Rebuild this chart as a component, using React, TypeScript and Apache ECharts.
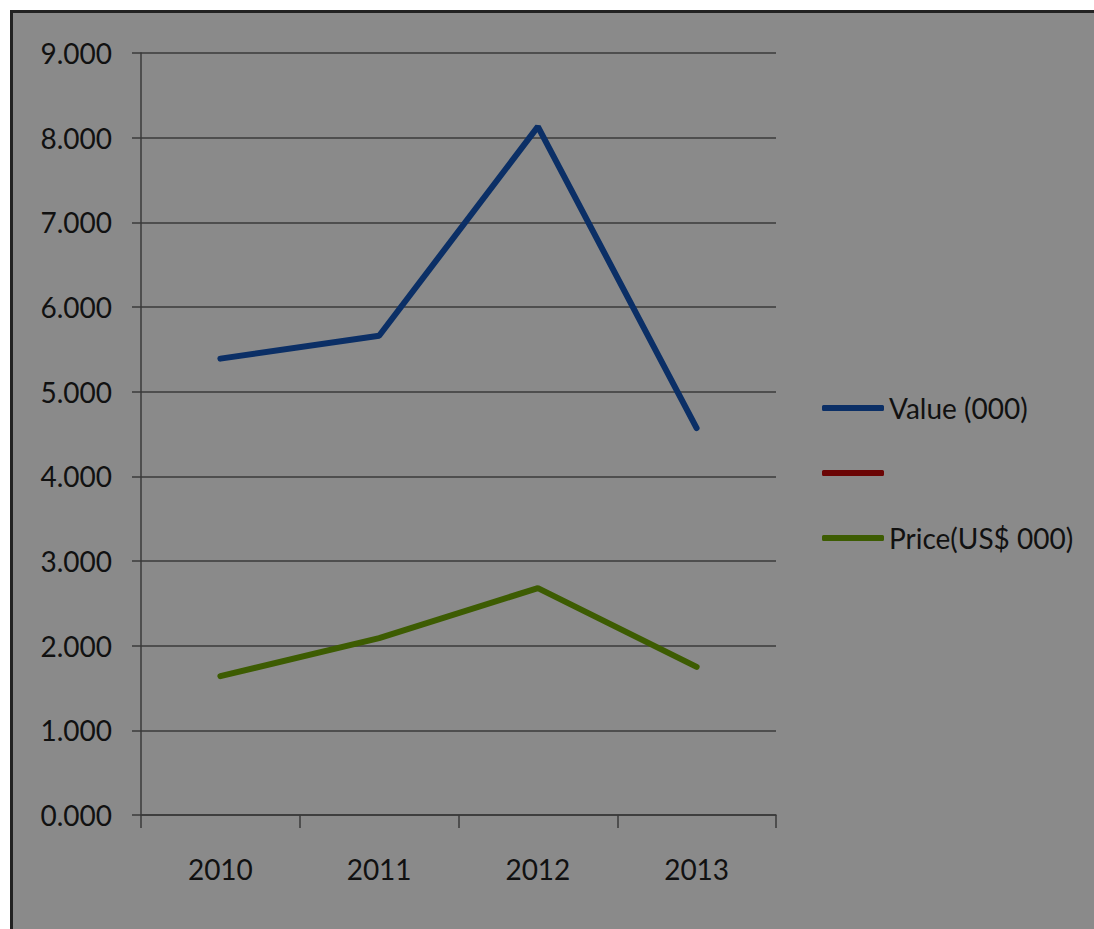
import React, { useEffect, useRef } from "react";
import * as echarts from "echarts";

const categories = ["2010", "2011", "2012", "2013"];
const valueSeries = [5.39, 5.66, 8.13, 4.57];
const blankSeries: (number | null)[] = [null, null, null, null];
const priceSeries = [1.64, 2.09, 2.68, 1.75];
const seriesNames = ["Value (000)", " ", "Price(US$ 000)"];

const FONT = "Lato, 'Liberation Sans', sans-serif";

export default function App() {
  const ref = useRef<HTMLDivElement>(null);
  useEffect(() => {
    if (!ref.current) return;
    const chart = echarts.init(ref.current, undefined, { renderer: "svg" });
    chart.setOption({
      animation: false,
      backgroundColor: "transparent",
      textStyle: { fontFamily: FONT },
      grid: { left: 141, right: 318, top: 53, bottom: 114, containLabel: false },
      legend: {
        orient: "vertical",
        left: 822,
        top: 393,
        padding: 0,
        itemWidth: 62,
        itemHeight: 6,
        itemGap: 35,
        icon: "roundRect",
        data: seriesNames,
        textStyle: { fontSize: 28, color: "#111", fontFamily: FONT, lineHeight: 30 },
      },
      xAxis: {
        type: "category",
        data: categories,
        boundaryGap: true,
        axisLine: { show: true, lineStyle: { color: "#3a3a3a", width: 1.5 } },
        axisTick: { show: true, length: 13, lineStyle: { color: "#3a3a3a", width: 1.5 } },
        axisLabel: { fontSize: 28, color: "#111", margin: 40, fontFamily: FONT },
        splitLine: { show: false },
      },
      yAxis: {
        type: "value",
        min: 0,
        max: 9,
        interval: 1,
        axisLine: { show: true, lineStyle: { color: "#3a3a3a", width: 1.5 } },
        axisTick: { show: true, length: 9, lineStyle: { color: "#3a3a3a", width: 1.5 } },
        axisLabel: {
          fontSize: 28,
          color: "#111",
          margin: 29,
          fontFamily: FONT,
          formatter: (v: number) => v.toFixed(3),
        },
        splitLine: { show: true, lineStyle: { color: "#3a3a3a", width: 1.5 } },
      },
      series: [
        {
          name: seriesNames[0],
          type: "line",
          data: valueSeries,
          symbol: "none",
          color: "#0b2f66",
          lineStyle: { width: 6, color: "#0b2f66", cap: "round" },
        },
        {
          name: seriesNames[1],
          type: "line",
          data: blankSeries,
          symbol: "none",
          color: "#6b0505",
          lineStyle: { width: 6, color: "#6b0505" },
        },
        {
          name: seriesNames[2],
          type: "line",
          data: priceSeries,
          symbol: "none",
          color: "#3d5c02",
          lineStyle: { width: 6, color: "#3d5c02", cap: "round" },
        },
      ],
    });
    return () => chart.dispose();
  }, []);

  return (
    <div style={{ position: "fixed", left: 0, top: 0, width: 1094, height: 929, background: "#fff", overflow: "hidden" }}>
      <div
        style={{
          position: "absolute",
          left: 10,
          top: 10,
          right: 0,
          bottom: 0,
          background: "#8a8a8a",
          borderTop: "3px solid #222",
          borderLeft: "3px solid #222",
        }}
      />
      <div ref={ref} style={{ position: "absolute", left: 0, top: 0, width: 1094, height: 929 }} />
    </div>
  );
}
